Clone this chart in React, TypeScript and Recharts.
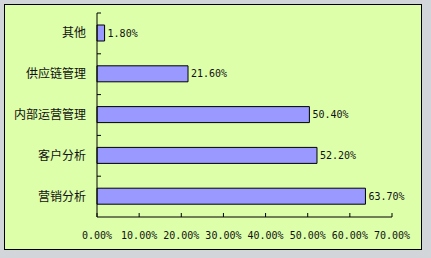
import { Bar, BarChart, LabelList, XAxis, YAxis } from 'recharts';

const categories = ['其他', '供应链管理', '内部运营管理', '客户分析', '营销分析'];
const shares = [1.8, 21.6, 50.4, 52.2, 63.7];
const xTicks = [0, 10, 20, 30, 40, 50, 60, 70];

const data = categories.map((name, i) => ({ name, value: shares[i] }));

const CHART_W = 418;
const CHART_H = 246;
const MARGIN = { top: 9, right: 30, left: 0, bottom: 0 };
const Y_WIDTH = 93;
const X_HEIGHT = 33;
const band = (CHART_H - MARGIN.top - MARGIN.bottom - X_HEIGHT) / categories.length;

const monoFont = '"DejaVu Sans Mono", "Liberation Mono", monospace';
const cjkFont = '"Noto Sans CJK SC", sans-serif';

const pct = (v: number) => `${Number(v).toFixed(2)}%`;

function CategoryTick(props: any) {
  const { x, y, payload } = props;
  const axisX = MARGIN.left + Y_WIDTH;
  const top = y - band / 2;
  return (
    <g>
      <line x1={axisX} x2={axisX + 4} y1={top} y2={top} stroke="#000" />
      <text
        x={x}
        y={y}
        dy={4}
        textAnchor="end"
        fontFamily={cjkFont}
        fontSize={12}
        fill="#111"
      >
        {payload.value}
      </text>
    </g>
  );
}

export default function App() {
  return (
    <div
      style={{
        position: 'absolute',
        left: 0,
        top: 0,
        width: 431,
        height: 258,
        background: '#d2d6da',
      }}
    >
      <div
        style={{
          position: 'absolute',
          left: 4,
          top: 4,
          width: CHART_W,
          height: CHART_H,
          boxSizing: 'border-box',
          border: '1px solid #000',
          background: '#ddffaa',
        }}
      />
      <div style={{ position: 'absolute', left: 4, top: 4 }}>
        <BarChart
          width={CHART_W}
          height={CHART_H}
          data={data}
          layout="vertical"
          margin={MARGIN}
          barSize={16}
        >
          <XAxis
            type="number"
            domain={[0, 70]}
            ticks={xTicks}
            interval={0}
            height={X_HEIGHT}
            tickFormatter={pct}
            tickSize={-4}
            tickMargin={19}
            axisLine={{ stroke: '#000' }}
            tickLine={{ stroke: '#000' }}
            tick={{ fontFamily: monoFont, fontSize: 10, fill: '#111' }}
          />
          <YAxis
            type="category"
            dataKey="name"
            width={Y_WIDTH}
            tickLine={false}
            tickSize={0}
            tickMargin={11}
            interval={0}
            axisLine={{ stroke: '#000' }}
            tick={<CategoryTick />}
          />
          <Bar
            dataKey="value"
            fill="#9999ff"
            stroke="#000"
            strokeWidth={1}
            isAnimationActive={false}
          >
            <LabelList
              dataKey="value"
              position="right"
              offset={3}
              formatter={(v: any) => pct(v)}
              style={{ fontFamily: monoFont, fontSize: 10, fill: '#111' }}
            />
          </Bar>
        </BarChart>
      </div>
    </div>
  );
}
